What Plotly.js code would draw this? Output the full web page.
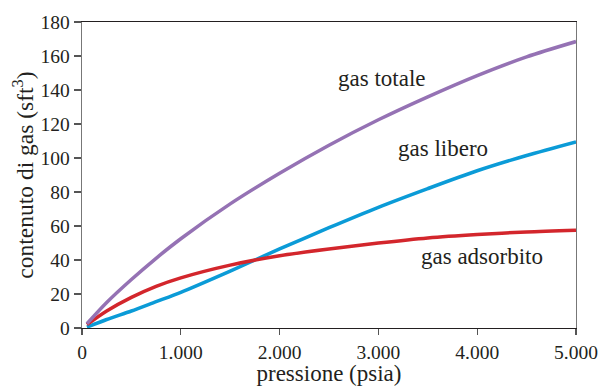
<!DOCTYPE html>
<html>
<head>
<meta charset="utf-8">
<script src="https://cdn.plot.ly/plotly-3.0.1.min.js"></script>
<style>html,body{margin:0;padding:0;background:#fff;}#chart{width:602px;height:386px;}</style>
</head>
<body>
<div id="chart"></div>
<script>
const pressione = [50, 250, 500, 750, 1000, 1500, 2000, 2500, 3000, 3500, 4000, 4500, 5000];
const gasTotale = [2.5, 15, 28.5, 41, 52.5, 73, 91, 107.5, 122.5, 136, 148.5, 159.5, 168.5];
const gasLibero = [0.5, 5, 10, 15.5, 21, 33.5, 46.5, 59, 71, 82, 92.5, 101.5, 109.5];
const gasAdsorbito = [2, 10, 18, 24.5, 29.5, 37, 42.5, 46.5, 50, 53, 55, 56.5, 57.5];
const xTicks = [0, 1000, 2000, 3000, 4000, 5000];
const yTicks = [0, 20, 40, 60, 80, 100, 120, 140, 160, 180];
const labels = [
  {text: 'gas totale', x: 3040, y: 146.5},
  {text: 'gas libero', x: 3650, y: 105.5},
  {text: 'gas adsorbito', x: 4045, y: 42}
];

const font = '"Liberation Serif", "Times New Roman", serif';
const mk = (y, color) => ({
  x: pressione, y: y, type: 'scatter', mode: 'lines',
  line: {color: color, width: 3.5, shape: 'spline', smoothing: 0.8},
  hoverinfo: 'skip'
});
const data = [
  mk(gasLibero, '#0b9bd7'),
  mk(gasAdsorbito, '#d3262c'),
  mk(gasTotale, '#9572b4')
];
const layout = {
  width: 602, height: 386,
  margin: {l: 82, r: 26, t: 22, b: 58},
  paper_bgcolor: '#fff', plot_bgcolor: '#fff',
  separators: ',.',
  showlegend: false,
  font: {family: font, color: '#231f20', size: 19.5},
  xaxis: {
    range: [0, 5000], tickvals: xTicks, tickformat: ',d',
    showgrid: false, zeroline: false,
    showline: true, mirror: true, linecolor: '#231f20', linewidth: 1.2,
    ticks: 'outside', ticklen: 6, tickcolor: '#555', tickwidth: 1.2,
    tickfont: {size: 19.5, family: font},
    title: {text: 'pressione (psia)', font: {size: 23, family: font}, standoff: 3},
    automargin: false
  },
  yaxis: {
    range: [0, 180], tickvals: yTicks,
    showgrid: false, zeroline: false,
    showline: true, mirror: true, linecolor: '#777', linewidth: 1.4,
    ticks: 'outside', ticklen: 7, tickcolor: '#555', tickwidth: 1.2,
    tickfont: {size: 19.5, family: font},
    title: {text: 'contenuto di gas (sft<sup>3</sup>)', font: {size: 23.5, family: font}, standoff: 0},
    automargin: false
  },
  annotations: labels.map(l => ({
    x: l.x, y: l.y, xref: 'x', yref: 'y', text: l.text, showarrow: false,
    font: {size: 23, family: font, color: '#231f20'}
  }))
};
Plotly.newPlot('chart', data, layout, {displayModeBar: false, staticPlot: true});
</script>
</body>
</html>
